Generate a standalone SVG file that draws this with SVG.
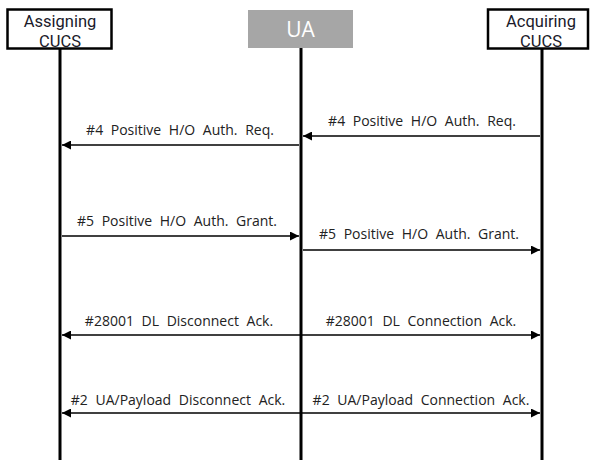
<svg xmlns="http://www.w3.org/2000/svg" width="591" height="460" viewBox="0 0 591 460">
<style>
.box{fill:#fff;stroke:#000;stroke-width:2.5}
.hdr{font-family:Roboto,"Noto Sans",sans-serif;font-size:16.5px;fill:#1a1a2a;text-anchor:middle}
.life{stroke:#000;stroke-width:3}
.msg{stroke:#000;stroke-width:1.5;fill:none}
.lbl{font-family:"Open Sans","Noto Sans",sans-serif;font-size:14px;fill:#222;text-anchor:middle;word-spacing:4px}
</style>
<defs>
<marker id="ah" viewBox="0 0 10 10" refX="10" refY="5" markerWidth="6" markerHeight="6" orient="auto-start-reverse" markerUnits="strokeWidth">
<path d="M0,0 L10,5 L0,10 Z" fill="#000"/>
</marker>
</defs>
<g id="lifelines">
<line class="life" x1="60" y1="48" x2="60" y2="460"/>
<line class="life" x1="301" y1="48" x2="301" y2="460"/>
<line class="life" x1="542" y1="48" x2="542" y2="460"/>
</g>
<g id="assigning">
<rect class="box" x="7.5" y="9.5" width="104" height="39"/>
<text class="hdr" x="60" y="27">Assigning</text>
<text class="hdr" x="60" y="46.5">CUCS</text>
</g>
<g id="ua">
<rect x="248" y="10" width="105" height="38" fill="#a6a6a6"/>
<text x="300.5" y="37" font-family="Open Sans, Noto Sans, sans-serif" font-size="21" fill="#fff" text-anchor="middle">UA</text>
</g>
<g id="acquiring">
<rect class="box" x="488" y="9.5" width="100" height="39"/>
<text class="hdr" x="541" y="27">Acquiring</text>
<text class="hdr" x="541" y="46.5">CUCS</text>
</g>
<g id="connectors">
<line class="msg" x1="299" y1="145" x2="62" y2="145" marker-end="url(#ah)"/>
<line class="msg" x1="540" y1="136" x2="303" y2="136" marker-end="url(#ah)"/>
<line class="msg" x1="62" y1="236" x2="299" y2="236" marker-end="url(#ah)"/>
<line class="msg" x1="303" y1="250" x2="540" y2="250" marker-end="url(#ah)"/>
<line class="msg" x1="62" y1="335" x2="540" y2="335" marker-start="url(#ah)" marker-end="url(#ah)"/>
<line class="msg" x1="62" y1="413" x2="540" y2="413" marker-start="url(#ah)" marker-end="url(#ah)"/>
</g>
<g id="labels">
<text class="lbl" x="180" y="135">#4 Positive H/O Auth. Req.</text>
<text class="lbl" x="422" y="126">#4 Positive H/O Auth. Req.</text>
<text class="lbl" x="177" y="226">#5 Positive H/O Auth. Grant.</text>
<text class="lbl" x="419" y="239">#5 Positive H/O Auth. Grant.</text>
<text class="lbl" x="179" y="326">#28001 DL Disconnect Ack.</text>
<text class="lbl" x="421" y="326">#28001 DL Connection Ack.</text>
<text class="lbl" x="178" y="405">#2 UA/Payload Disconnect Ack.</text>
<text class="lbl" x="421" y="405">#2 UA/Payload Connection Ack.</text>
</g>
</svg>
